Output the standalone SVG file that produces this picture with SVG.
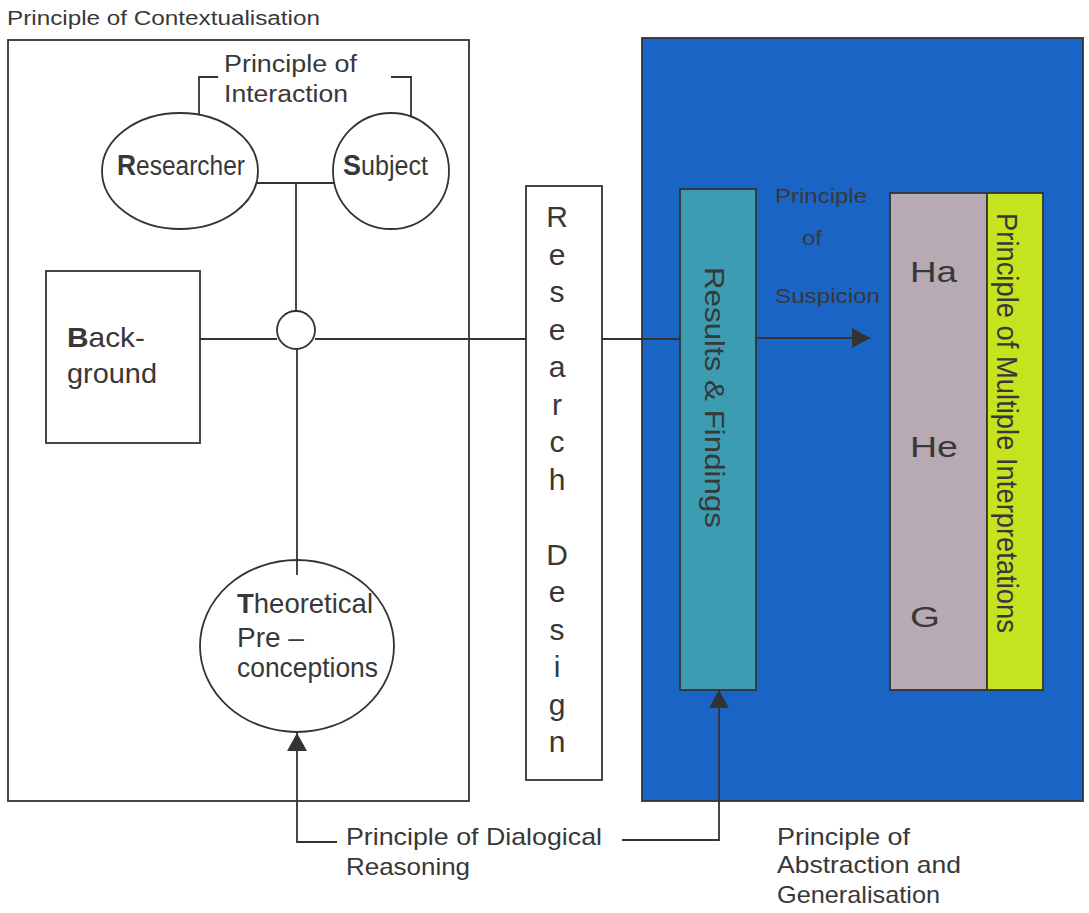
<svg xmlns="http://www.w3.org/2000/svg" width="1089" height="913" viewBox="0 0 1089 913">
<defs>
<style>
text{font-family:"Liberation Sans",Arial,sans-serif;fill:#383838}
.ln{fill:none;stroke:#333;stroke-width:1.8}
.box{stroke:#333;stroke-width:1.8}
.t22{font-size:23px}
.t28{font-size:28px}
.rd{font-size:30px;text-anchor:middle}
.b{font-weight:bold}
</style>
<marker id="ah" viewBox="0 0 18 20" refX="18" refY="10" markerWidth="18" markerHeight="20" markerUnits="userSpaceOnUse" orient="auto">
<path d="M0,0 L18,10 L0,20 z" fill="#333"/>
</marker>
</defs>
<rect width="1089" height="913" fill="#fff"/>

<g id="context">
<rect x="8" y="40" width="461" height="761" fill="#fff" class="box"/>
<text x="7" y="25" font-size="20" textLength="313" lengthAdjust="spacingAndGlyphs">Principle of Contextualisation</text>
</g>

<g id="blue-panel">
<rect x="642" y="38" width="441" height="763" fill="#1a64c6" class="box"/>
</g>

<g id="connectors">
<path class="ln" d="M199,116 V77 H218"/>
<path class="ln" d="M391,77 H411 V117"/>
<path class="ln" d="M257,183 H335"/>
<path class="ln" d="M296,183 V311"/>
<path class="ln" d="M297,349 V575"/>
<path class="ln" d="M200,339 H277"/>
<path class="ln" d="M315,339 H527"/>
<path class="ln" d="M602,339 H680"/>
<path class="ln" d="M756,338 H870" marker-end="url(#ah)"/>
<path class="ln" d="M337,842 H297 V733" marker-end="url(#ah)"/>
<path class="ln" d="M622,840 H719 V690" marker-end="url(#ah)"/>
</g>

<g id="interaction">
<text x="224" y="72" class="t22" textLength="133" lengthAdjust="spacingAndGlyphs">Principle of</text>
<text x="224" y="102" class="t22" textLength="124" lengthAdjust="spacingAndGlyphs">Interaction</text>
</g>

<g id="researcher">
<ellipse cx="180" cy="171" rx="78" ry="58" fill="#fff" class="box"/>
<text x="117" y="175" font-size="27" textLength="128" lengthAdjust="spacingAndGlyphs"><tspan class="b" font-size="29">R</tspan>esearcher</text>
</g>

<g id="subject">
<ellipse cx="391" cy="171" rx="58" ry="58" fill="#fff" class="box"/>
<text x="343" y="175" font-size="27" textLength="85" lengthAdjust="spacingAndGlyphs"><tspan class="b" font-size="29">S</tspan>ubject</text>
</g>

<g id="hub">
<circle cx="296" cy="330" r="19" fill="#fff" class="box"/>
</g>

<g id="background">
<rect x="46" y="271" width="154" height="172" fill="#fff" class="box"/>
<text x="67" y="347" class="t28" textLength="78" lengthAdjust="spacingAndGlyphs"><tspan class="b">B</tspan>ack-</text>
<text x="67" y="383" class="t28" textLength="90" lengthAdjust="spacingAndGlyphs">ground</text>
</g>

<g id="theoretical">
<ellipse cx="297" cy="646" rx="97" ry="86" fill="none" class="box"/>
<text x="237" y="613" class="t28" textLength="136" lengthAdjust="spacingAndGlyphs"><tspan class="b">T</tspan>heoretical</text>
<text x="237" y="647" class="t28">Pre –</text>
<text x="237" y="677" class="t28" textLength="141" lengthAdjust="spacingAndGlyphs">conceptions</text>
</g>

<g id="research-design">
<rect x="526" y="186" width="76" height="594" fill="#fff" class="box"/>
<text class="rd" x="557" y="227">R</text>
<text class="rd" x="557" y="265">e</text>
<text class="rd" x="557" y="302">s</text>
<text class="rd" x="557" y="340">e</text>
<text class="rd" x="557" y="377">a</text>
<text class="rd" x="557" y="415">r</text>
<text class="rd" x="557" y="452">c</text>
<text class="rd" x="557" y="490">h</text>
<text class="rd" x="557" y="565">D</text>
<text class="rd" x="557" y="602">e</text>
<text class="rd" x="557" y="640">s</text>
<text class="rd" x="557" y="677">i</text>
<text class="rd" x="557" y="715">g</text>
<text class="rd" x="557" y="752">n</text>
</g>

<g id="results">
<rect x="680" y="189" width="76" height="501" fill="#3c9db2" class="box"/>
<text transform="translate(705,267) rotate(90)" font-size="28" textLength="261" lengthAdjust="spacingAndGlyphs">Results &amp; Findings</text>
</g>

<g id="suspicion">
<text x="775" y="203" font-size="21" fill="#333" textLength="92" lengthAdjust="spacingAndGlyphs">Principle</text>
<text x="802" y="245" font-size="21" textLength="20" lengthAdjust="spacingAndGlyphs">of</text>
<text x="775" y="303" font-size="21" textLength="105" lengthAdjust="spacingAndGlyphs">Suspicion</text>
</g>

<g id="interpretations">
<rect x="890" y="193" width="97" height="497" fill="#b7aab3" class="box"/>
<rect x="987" y="193" width="56" height="497" fill="#c6e31f" class="box"/>
<text x="910" y="282" font-size="30" textLength="47" lengthAdjust="spacingAndGlyphs">Ha</text>
<text x="910" y="457" font-size="30" textLength="48" lengthAdjust="spacingAndGlyphs">He</text>
<text x="910" y="627" font-size="30" textLength="30" lengthAdjust="spacingAndGlyphs">G</text>
<text transform="translate(997,213) rotate(90)" font-size="30" textLength="420" lengthAdjust="spacingAndGlyphs">Principle of Multiple Interpretations</text>
</g>

<g id="dialogical">
<text x="346" y="845" font-size="24" textLength="256" lengthAdjust="spacingAndGlyphs">Principle of Dialogical</text>
<text x="346" y="875" font-size="24" textLength="124" lengthAdjust="spacingAndGlyphs">Reasoning</text>
</g>

<g id="abstraction">
<text x="777" y="845" font-size="24" textLength="133" lengthAdjust="spacingAndGlyphs">Principle of</text>
<text x="777" y="873" font-size="24" textLength="184" lengthAdjust="spacingAndGlyphs">Abstraction and</text>
<text x="777" y="903" font-size="24" textLength="163" lengthAdjust="spacingAndGlyphs">Generalisation</text>
</g>
</svg>
